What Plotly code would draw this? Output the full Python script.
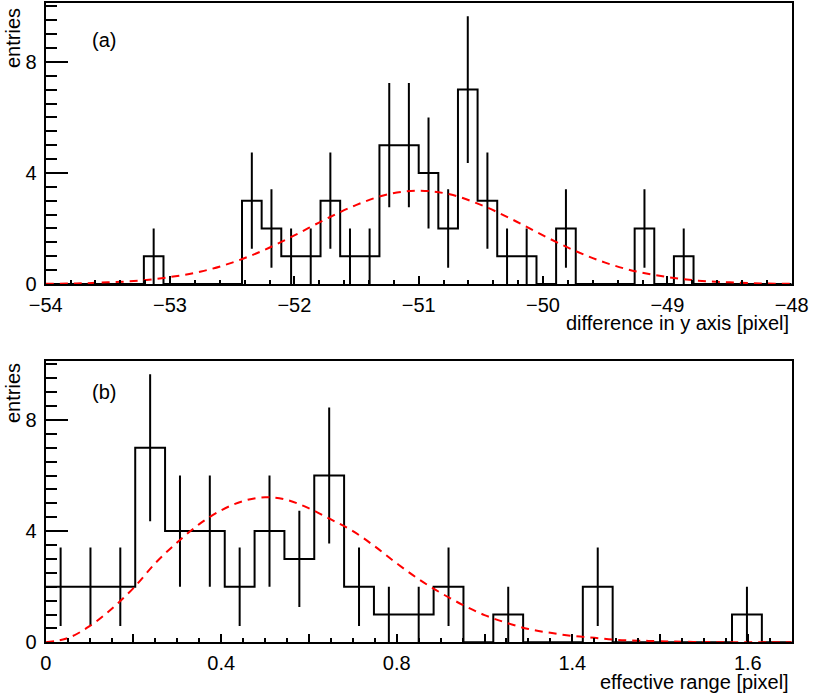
import numpy as np
import plotly.graph_objects as go
from plotly.subplots import make_subplots

# (a) difference in y axis, 38 bins between -54 and -48
a_lo, a_hi = -54.0, -48.0
a_counts = [0, 0, 0, 0, 0, 1, 0, 0, 0, 0,
            3, 2, 1, 1, 3, 1, 1, 5, 5, 4,
            2, 7, 3, 1, 1, 0, 2, 0, 0, 0,
            2, 0, 1, 0, 0, 0, 0, 0]
# red dashed fit
a_fit_x = [-54.0, -53.75, -53.5, -53.25, -53.0, -52.75, -52.5, -52.25, -52.0,
           -51.75, -51.5, -51.25, -51.0, -50.75, -50.5, -50.25, -50.0, -49.75,
           -49.5, -49.25, -49.0, -48.75, -48.5, -48.25, -48.0]
a_fit_y = [0.01, 0.02, 0.06, 0.12, 0.25, 0.45, 0.77, 1.21, 1.75,
           2.33, 2.85, 3.23, 3.36, 3.23, 2.85, 2.33, 1.75, 1.21,
           0.77, 0.45, 0.25, 0.12, 0.06, 0.02, 0.01]

# (b) effective range, 25 bins between 0 and 1.7
b_lo, b_hi = 0.0, 1.7
b_counts = [2, 2, 2, 7, 4, 4, 2, 4, 3, 6,
            2, 1, 1, 2, 0, 1, 0, 0, 2, 0,
            0, 0, 0, 1, 0]
b_fit_x = [0.0, 0.05, 0.1, 0.15, 0.2, 0.25, 0.3, 0.35, 0.4, 0.45, 0.5, 0.55,
           0.6, 0.65, 0.7, 0.75, 0.8, 0.85, 0.9, 0.95, 1.0, 1.05, 1.1, 1.15,
           1.2, 1.25, 1.3, 1.35, 1.4, 1.45, 1.5, 1.55, 1.6, 1.65, 1.7]
b_fit_y = [0.0, 0.15, 0.58, 1.2, 1.95, 2.85, 3.6, 4.25, 4.75, 5.08, 5.22, 5.12,
           4.82, 4.42, 4.0, 3.45, 2.84, 2.27, 1.78, 1.35, 0.98, 0.7, 0.48, 0.34,
           0.23, 0.16, 0.09, 0.06, 0.04, 0.02, 0.01, 0.0, 0.0, 0.0, 0.0]
b_tickvals = [0, 0.2, 0.4, 0.6, 0.8, 1.0, 1.2, 1.4, 1.6]
b_ticktext = ["0", "", "0.4", "", "0.8", "", "1.4", "", "1.6"]

y_max = 10.13
FONT = "Liberation Sans, Arial, Helvetica, sans-serif"
FS = 20
W, H = 814, 694


def add_hist(fig, row, lo, hi, counts):
    n = len(counts)
    edges = np.linspace(lo, hi, n + 1)
    centers = (edges[:-1] + edges[1:]) / 2
    # step outline of the histogram
    fig.add_trace(go.Scatter(
        x=edges, y=list(counts) + [counts[-1]],
        mode="lines", line=dict(color="black", width=2, shape="hv"),
        showlegend=False, hoverinfo="skip"), row=row, col=1)
    # poisson error bars, no caps
    cnt = np.array(counts, dtype=float)
    keep = cnt > 0
    fig.add_trace(go.Scatter(
        x=centers[keep], y=cnt[keep], mode="markers",
        marker=dict(size=0.1, color="black"),
        error_y=dict(type="data", array=np.sqrt(cnt[keep]), width=0,
                     thickness=2, color="black"),
        showlegend=False), row=row, col=1)


fig = make_subplots(rows=2, cols=1)

add_hist(fig, 1, a_lo, a_hi, a_counts)
fig.add_trace(go.Scatter(x=a_fit_x, y=a_fit_y, mode="lines",
                         line=dict(color="red", width=2, dash="8px,6px", shape="spline"),
                         showlegend=False), row=1, col=1)
add_hist(fig, 2, b_lo, b_hi, b_counts)
fig.add_trace(go.Scatter(x=b_fit_x, y=b_fit_y, mode="lines",
                         line=dict(color="red", width=2, dash="8px,6px", shape="spline"),
                         showlegend=False), row=2, col=1)

# frame positions in pixels
x0, x1 = 45.7, 791.7
top_a, bot_a = 2.7, 284.0
top_b, bot_b = 360.7, 642.3

axis_common = dict(showline=True, linecolor="black", linewidth=2, mirror=True,
                   showgrid=False, zeroline=False, ticks="inside", automargin=False,
                   tickcolor="black", tickwidth=1.5,
                   tickfont=dict(family=FONT, size=FS, color="black"))

fig.update_xaxes(domain=[x0 / W, x1 / W], ticklabelstandoff=2, **axis_common)
fig.update_yaxes(ticklabelstandoff=3, **axis_common)

fig.update_layout(
    xaxis=dict(range=[a_lo, a_hi], dtick=1, ticklen=8,
               minor=dict(dtick=0.2, ticks="inside", ticklen=4, tickcolor="black", tickwidth=1.5)),
    yaxis=dict(domain=[1 - bot_a / H, 1 - top_a / H], range=[0, y_max], dtick=4, ticklen=22,
               minor=dict(dtick=0.5, ticks="inside", ticklen=11, tickcolor="black", tickwidth=1.5)),
    xaxis2=dict(range=[b_lo, b_hi], tickvals=b_tickvals, ticktext=b_ticktext, ticklen=8,
                minor=dict(dtick=0.05, ticks="inside", ticklen=4, tickcolor="black", tickwidth=1.5)),
    yaxis2=dict(domain=[1 - bot_b / H, 1 - top_b / H], range=[0, y_max], dtick=4, ticklen=22,
                minor=dict(dtick=0.5, ticks="inside", ticklen=11, tickcolor="black", tickwidth=1.5)),
)

ann = dict(showarrow=False, font=dict(family=FONT, size=FS, color="black"))
fig.add_annotation(text="(a)", xref="paper", yref="paper", x=90 / W, y=1 - 27 / H, **ann)
fig.add_annotation(text="(b)", xref="paper", yref="paper", x=90 / W, y=1 - 391.5 / H, **ann)
fig.add_annotation(text="entries", textangle=-90, xref="paper", yref="paper",
                   x=13 / W, y=1 - 6 / H, xanchor="center", yanchor="top", **ann)
fig.add_annotation(text="entries", textangle=-90, xref="paper", yref="paper",
                   x=13 / W, y=1 - 361 / H, xanchor="center", yanchor="top", **ann)
fig.add_annotation(text="difference in y axis [pixel]", xref="paper", yref="paper",
                   x=791 / W, y=1 - 310 / H, xanchor="right", yanchor="top", **ann)
fig.add_annotation(text="effective range [pixel]", xref="paper", yref="paper",
                   x=791 / W, y=1 - 669 / H, xanchor="right", yanchor="top", **ann)

fig.update_layout(width=W, height=H, margin=dict(l=0, r=0, t=0, b=0),
                  plot_bgcolor="white", paper_bgcolor="white",
                  font=dict(family=FONT, size=FS, color="black"))

fig.write_html("out.html", config={"displayModeBar": False},
               post_script="document.body.style.margin='0';")
